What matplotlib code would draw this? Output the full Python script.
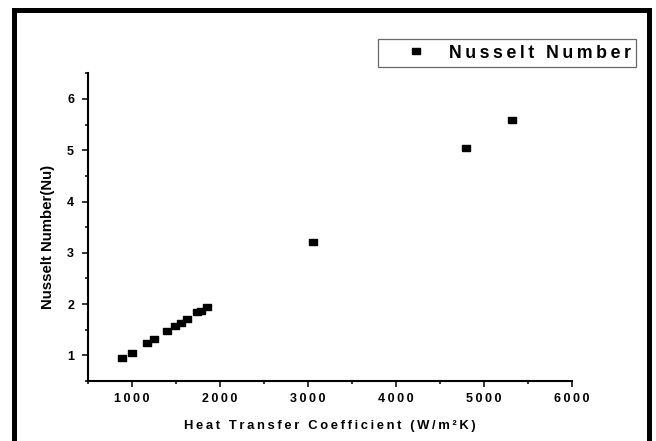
import matplotlib
matplotlib.use("Agg")
import matplotlib.pyplot as plt
from matplotlib.patches import Rectangle
from matplotlib.ticker import MultipleLocator, FuncFormatter

# heat transfer coefficient (W/m^2K) and Nusselt number
h_coeff = [892, 996, 1174, 1248, 1402, 1485, 1560, 1620, 1733, 1786, 1857,
           3052, 4792, 5322]
nusselt = [0.94, 1.05, 1.24, 1.31, 1.47, 1.57, 1.63, 1.70, 1.84, 1.86, 1.95,
           3.21, 5.04, 5.59]

x_ticks = [1000, 2000, 3000, 4000, 5000, 6000]
y_ticks = [1, 2, 3, 4, 5, 6]

plt.rcParams['font.family'] = ['Liberation Sans', 'DejaVu Sans']
plt.rcParams['font.weight'] = 'bold'

THIN = '\u2009'


def spaced(s):
    # wide letter spacing, like the original export
    return THIN.join(s)


fig = plt.figure(figsize=(6.56, 4.41), dpi=100)
ax = fig.add_axes([88/656, 1 - 381/441, (572 - 88)/656, (381 - 73.3)/441])

# rectangular marker, a bit wider than tall
rect = [(-1, -0.72), (1, -0.72), (1, 0.72), (-1, 0.72), (-1, -0.72)]
ax.plot(h_coeff, nusselt, linestyle='none', marker=rect, markersize=6.2,
        color='black', label=spaced('Nusselt Number'))

ax.set_xlim(500, 6000)
ax.set_ylim(0.5, 6.5)
ax.set_xticks(x_ticks)
ax.set_yticks(y_ticks)
ax.xaxis.set_minor_locator(MultipleLocator(500))
ax.yaxis.set_minor_locator(MultipleLocator(0.5))
ax.xaxis.set_major_formatter(FuncFormatter(lambda v, p: spaced('%d' % v)))
ax.yaxis.set_major_formatter(FuncFormatter(lambda v, p: '%d' % v))

for side in ['top', 'right']:
    ax.spines[side].set_visible(False)
for side in ['left', 'bottom']:
    ax.spines[side].set_linewidth(1.5)

ax.tick_params(which='major', direction='out', length=4.5, width=1.1,
               labelsize=9, pad=4)
ax.tick_params(which='minor', direction='out', length=2.5, width=1.1)
ax.tick_params(axis='y', which='major', pad=5.5)

ax.set_xlabel(spaced('Heat Transfer Coefficient (W/m²K)'), fontsize=9.4,
              fontweight='bold', labelpad=11)
ax.set_ylabel('Nusselt Number(Nu)', fontsize=10.8, fontweight='bold')
ax.yaxis.set_label_coords(-0.068, 0.468)

leg = fig.legend(loc='upper right', bbox_to_anchor=(636/656, 1 - 39.3/441),
                 borderaxespad=0, fancybox=False, frameon=True,
                 prop={'size': 12.8, 'weight': 'bold'}, handlelength=3.6,
                 handletextpad=0.05, borderpad=0.3, markerscale=1.0)
leg.get_frame().set_edgecolor('#444444')
leg.get_frame().set_linewidth(0.9)

# thick outer border round the figure
fig.patches.append(Rectangle((14/656, -2/441), (648.5 - 14)/656,
                             (441 + 2 - 10)/441, transform=fig.transFigure,
                             fill=False, edgecolor='black', linewidth=3.6))

fig.savefig('out.png', dpi=100)
